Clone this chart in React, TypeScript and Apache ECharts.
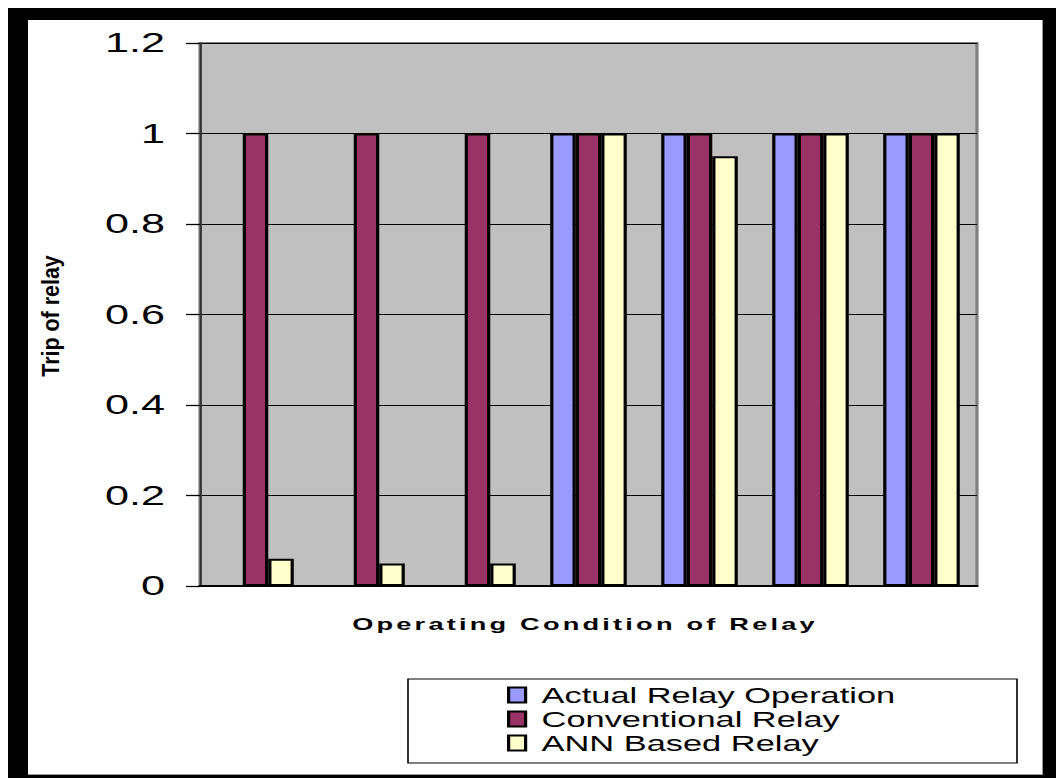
import React, { useEffect, useRef } from "react";
import * as echarts from "echarts";

const categories = ["1", "2", "3", "4", "5", "6", "7"];
const actualRelay = [0, 0, 0, 1, 1, 1, 1];
const conventionalRelay = [1, 1, 1, 1, 1, 1, 1];
const annRelay = [0.06, 0.05, 0.05, 1, 0.95, 1, 1];
const seriesNames = ["Actual Relay Operation", "Conventional Relay", "ANN Based Relay"];
const seriesColors = ["#9999ff", "#993366", "#ffffcc"];
const yMin = 0;
const yMax = 1.2;
const yStep = 0.2;
const xTitle = "Operating Condition of Relay";
const yTitle = "Trip of relay";

const S = 1.6; // horizontal stretch of the reference picture
const W = 1056 / S;

export default function App() {
  const ref = useRef<HTMLDivElement>(null);
  useEffect(() => {
    if (!ref.current) return;
    const chart = echarts.init(ref.current, undefined, { renderer: "svg" });
    const font = '"Liberation Sans", Arial, sans-serif';
    const data = [actualRelay, conventionalRelay, annRelay];
    chart.setOption({
      animation: false,
      grid: {
        left: 200 / S,
        top: 43,
        width: 777 / S,
        height: 543,
        show: true,
        backgroundColor: "#c0c0c0",
        borderColor: "#808080",
        borderWidth: 2,
      },
      xAxis: {
        type: "category",
        data: categories,
        axisLabel: { show: false },
        axisTick: { show: false },
        axisLine: { show: true, lineStyle: { color: "#000", width: 2 } },
        splitLine: { show: false },
      },
      yAxis: {
        type: "value",
        min: yMin,
        max: yMax,
        interval: yStep,
        axisLine: { show: true, lineStyle: { color: "#333", width: 1.3 } },
        axisTick: { show: true, inside: false, length: 14 / S, lineStyle: { color: "#000", width: 1.3 } },
        axisLabel: { margin: 35 / S, fontSize: 27, fontFamily: font, color: "#000" },
        splitLine: { show: true, lineStyle: { color: "#000", width: 1 } },
      },
      legend: {
        orient: "vertical",
        left: 507 / S,
        top: 683,
        padding: 0,
        itemWidth: 17 / S,
        itemHeight: 15,
        itemGap: 0,
        icon: "rect",
        data: seriesNames,
        textStyle: { fontSize: 21.5, fontFamily: font, color: "#000", lineHeight: 24, padding: [0, 0, 0, 5] },
      },
      graphic: [
        {
          type: "rect",
          z: -1,
          shape: { x: 408 / S, y: 679, width: 609 / S, height: 84 },
          style: { fill: "#fff", stroke: "#000", lineWidth: 1 },
        },
        {
          type: "text",
          x: 50 / S,
          y: 316,
          rotation: Math.PI / 2,
          scaleX: 1.19,
          scaleY: 0.85,
          style: {
            text: yTitle,
            fontSize: 18,
            fontWeight: "bold",
            fontFamily: font,
            fill: "#000",
            align: "center",
            verticalAlign: "middle",
          },
        },
        {
          type: "text",
          x: 585 / S,
          y: 624,
          style: {
            text: xTitle,
            fontSize: 17,
            fontWeight: "bold",
            fontFamily: font,
            fill: "#000",
            align: "center",
            verticalAlign: "middle",
          },
        },
      ],
      series: seriesNames.map((name, i) => ({
        name,
        type: "bar",
        data: data[i],
        barGap: "0%",
        barCategoryGap: "31%",
        itemStyle: { color: seriesColors[i], borderColor: "#000", borderWidth: 2 },
      })),
    });
    ref.current.querySelectorAll("text").forEach((t) => {
      if (t.textContent === xTitle) (t as SVGTextElement).style.letterSpacing = "2px";
    });
    return () => chart.dispose();
  }, []);

  return (
    <div style={{ position: "fixed", left: 0, top: 0, width: 1056, height: 778, background: "#fff", overflow: "hidden" }}>
      <div style={{ position: "absolute", left: 8, top: 8, width: 1048, height: 770, background: "#000" }} />
      <div
        style={{
          position: "absolute",
          left: 28,
          top: 20,
          width: 1014,
          height: 754,
          background: "#fff",
          borderRight: "1px solid #999",
          borderBottom: "1px solid #999",
        }}
      />
      <div
        ref={ref}
        style={{ position: "absolute", left: 0, top: 0, width: W, height: 778, transform: `scaleX(${S})`, transformOrigin: "0 0" }}
      />
    </div>
  );
}
